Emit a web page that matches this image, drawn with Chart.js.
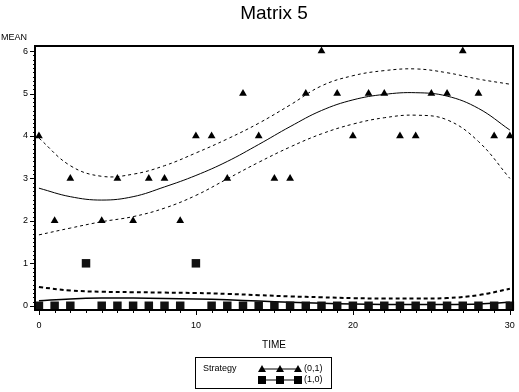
<!DOCTYPE html>
<html>
<head>
<meta charset="utf-8">
<script src="https://cdn.jsdelivr.net/npm/chart.js@4/dist/chart.umd.min.js"></script>
<style>
  html, body { margin: 0; padding: 0; background: #fff; }
  #wrap { width: 519px; height: 392px; }
</style>
</head>
<body>
<div id="wrap"><canvas id="chart" width="519" height="392"></canvas></div>
<script>
// observed means per time point
const times = [0,1,2,3,4,5,6,7,8,9,10,11,12,13,14,15,16,17,18,19,20,21,22,23,24,25,26,27,28,29,30];
const meanS01 = [4,2,3,null,2,3,2,3,3,2,4,4,3,5,4,3,3,5,6,5,4,5,5,4,4,5,5,6,5,4,4];
const meanS10 = [0,0,0,1,0,0,0,0,0,0,1,0,0,0,0,0,0,0,0,0,0,0,0,0,0,0,0,0,0,0,0];

// fitted curves and bands
const fitTimes = [0,2,4,6,8,10,12,14,16,18,20,22,24,26,28,30];
const fitS01   = [2.77,2.57,2.49,2.57,2.8,3.07,3.4,3.8,4.22,4.6,4.85,4.98,5.02,4.94,4.65,4.14];
const upperS01 = [3.95,3.3,3.05,3.1,3.3,3.6,3.93,4.3,4.73,5.18,5.42,5.54,5.58,5.49,5.34,5.22];
const lowerS01 = [1.67,1.83,1.98,2.1,2.3,2.6,2.99,3.38,3.74,4.05,4.28,4.43,4.49,4.38,3.87,3.0];
const fitS10   = [0.12,0.16,0.18,0.18,0.17,0.16,0.14,0.11,0.08,0.06,0.04,0.03,0.03,0.03,0.04,0.08];
const upperS10 = [0.44,0.36,0.33,0.32,0.31,0.3,0.28,0.25,0.22,0.2,0.18,0.17,0.17,0.18,0.25,0.4];

const xTicks = [0,10,20,30];
const yTicks = [0,1,2,3,4,5,6];
const legendLabels = ['(0,1)', '(1,0)'];

const FONT = '"Liberation Sans", Arial, sans-serif';

function pts(xs, ys) {
    return xs.map((x, i) => ({ x: x, y: ys[i] }));
}

const decor = {
    id: 'decor',
    afterDraw(chart) {
        const ctx = chart.ctx;
        const ca = chart.chartArea;
        const xs = chart.scales.x, ys = chart.scales.y;
        ctx.save();
        ctx.strokeStyle = '#000';
        ctx.fillStyle = '#000';

        // frame
        ctx.lineWidth = 2;
        ctx.strokeRect(ca.left, ca.top, ca.right - ca.left, ca.bottom - ca.top);

        // x ticks: minor every 1, major at labels
        ctx.lineWidth = 1;
        for (let t = 0; t <= 30; t++) {
            const px = Math.round(xs.getPixelForValue(t)) + 0.5;
            const len = xTicks.includes(t) ? 5 : 3;
            ctx.beginPath();
            ctx.moveTo(px, ca.bottom);
            ctx.lineTo(px, ca.bottom + len);
            ctx.stroke();
        }
        // y ticks: minor every 0.1
        for (let k = 0; k <= 60; k++) {
            const v = k / 10;
            const py = Math.round(ys.getPixelForValue(v)) + 0.5;
            const len = (k % 10 === 0) ? 5 : 2;
            ctx.beginPath();
            ctx.moveTo(ca.left - len, py);
            ctx.lineTo(ca.left, py);
            ctx.stroke();
        }

        // tick labels
        ctx.font = '9px ' + FONT;
        ctx.textAlign = 'center';
        ctx.textBaseline = 'middle';
        xTicks.forEach(t => ctx.fillText(String(t), xs.getPixelForValue(t), ca.bottom + 16));
        ctx.textAlign = 'right';
        yTicks.forEach(v => ctx.fillText(String(v), ca.left - 7, ys.getPixelForValue(v)));

        // axis titles
        ctx.textAlign = 'left';
        ctx.fillText('MEAN', 1, 38);
        ctx.textAlign = 'center';
        ctx.font = '10px ' + FONT;
        ctx.fillText('TIME', (ca.left + ca.right) / 2, 345);

        // title
        ctx.font = '19px ' + FONT;
        ctx.fillText('Matrix 5', (ca.left + ca.right) / 2, 14);

        // legend
        const bx = 195, by = 357, bw = 136, bh = 31;
        ctx.lineWidth = 1;
        ctx.strokeRect(bx + 0.5, by + 0.5, bw, bh);
        ctx.font = '9px ' + FONT;
        ctx.textAlign = 'left';
        ctx.fillText('Strategy', 203, 369);
        const mx = [262, 280, 298];
        const rows = [369, 380];
        rows.forEach((ry, r) => {
            ctx.beginPath();
            ctx.moveTo(mx[0], ry);
            ctx.lineTo(mx[2], ry);
            ctx.stroke();
            mx.forEach(cx => {
                if (r === 0) {
                    ctx.beginPath();
                    ctx.moveTo(cx, ry - 4);
                    ctx.lineTo(cx + 4, ry + 3);
                    ctx.lineTo(cx - 4, ry + 3);
                    ctx.closePath();
                    ctx.fill();
                } else {
                    ctx.fillRect(cx - 4, ry - 4, 8, 8);
                }
            });
            ctx.fillText(legendLabels[r], 304, ry);
        });
        ctx.restore();
    }
};

const ctx = document.getElementById('chart').getContext('2d');
new Chart(ctx, {
    type: 'scatter',
    data: {
        datasets: [
            { label: '(0,1)', data: pts(times, meanS01), pointStyle: 'triangle', pointRadius: 4.5,
              backgroundColor: '#000', borderColor: '#000', borderWidth: 0, showLine: false, clip: false },
            { label: '(1,0)', data: pts(times, meanS10), pointStyle: 'rect', pointRadius: 6,
              backgroundColor: '#111', borderColor: '#111', borderWidth: 0, showLine: false, clip: false },
            { label: 'fit01', data: pts(fitTimes, fitS01), showLine: true, pointRadius: 0,
              borderColor: '#000', borderWidth: 1, tension: 0.4 },
            { label: 'up01', data: pts(fitTimes, upperS01), showLine: true, pointRadius: 0,
              borderColor: '#000', borderWidth: 1, borderDash: [3, 3], tension: 0.4 },
            { label: 'lo01', data: pts(fitTimes, lowerS01), showLine: true, pointRadius: 0,
              borderColor: '#000', borderWidth: 1, borderDash: [3, 3], tension: 0.4 },
            { label: 'fit10', data: pts(fitTimes, fitS10), showLine: true, pointRadius: 0,
              borderColor: '#000', borderWidth: 1.5, tension: 0.4 },
            { label: 'up10', data: pts(fitTimes, upperS10), showLine: true, pointRadius: 0,
              borderColor: '#000', borderWidth: 2, borderDash: [4, 3], tension: 0.4 }
        ]
    },
    options: {
        responsive: false,
        animation: false,
        events: [],
        layout: { padding: { left: 35, right: 1.5, top: 46, bottom: 82 } },
        plugins: { legend: { display: false }, tooltip: { enabled: false }, title: { display: false } },
        scales: {
            x: { type: 'linear', min: -0.25, max: 30.2, display: false },
            y: { type: 'linear', min: -0.1, max: 6.12, display: false }
        }
    },
    plugins: [decor]
});
</script>
</body>
</html>
